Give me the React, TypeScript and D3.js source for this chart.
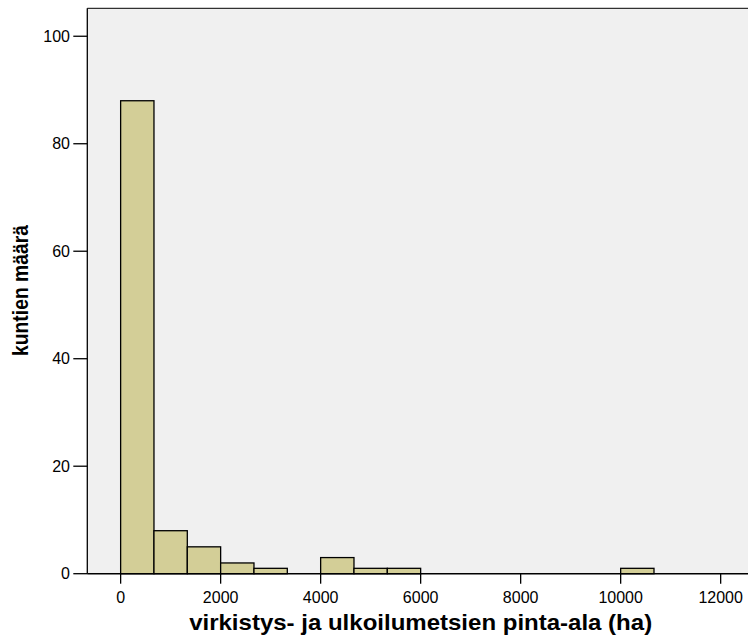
import * as d3 from 'd3';

// Histogram bins (width 2000/3 ha), counts
const binWidth = 2000 / 3;
const binCounts = [88, 8, 5, 2, 1, 0, 3, 1, 1, 0, 0, 0, 0, 0, 0, 1];
const xTicks = [0, 2000, 4000, 6000, 8000, 10000, 12000];
const yTicks = [0, 20, 40, 60, 80, 100];

const xTitle = 'virkistys- ja ulkoilumetsien pinta-ala (ha)';
const yTitle = 'kuntien määrä';

export default function App() {
  const width = 748;
  const height = 637;
  const plot = { left: 87.3, top: 8.3, right: 754, bottom: 573.7 };

  const x = d3.scaleLinear().domain([-binWidth, 12000 + binWidth]).range([plot.left, plot.right]);
  const y = d3.scaleLinear().domain([0, 105.2]).range([plot.bottom, plot.top]);

  const bars = binCounts
    .map((c, i) => ({ x0: i * binWidth, x1: (i + 1) * binWidth, count: c }))
    .filter(d => d.count > 0);

  return (
    <svg width={width} height={height} style={{ position: 'absolute', left: 0, top: 0, background: '#fff' }}
      fontFamily="'Liberation Sans', Arial, sans-serif">
      <rect x={plot.left} y={plot.top} width={plot.right - plot.left} height={plot.bottom - plot.top} fill="#f0f0f0" />
      <line x1={plot.left} x2={plot.right} y1={plot.top} y2={plot.top} stroke="#000" strokeWidth={1} />

      {bars.map((d, i) => (
        <rect key={i} x={x(d.x0)} y={y(d.count)} width={x(d.x1) - x(d.x0)} height={y(0) - y(d.count)}
          fill="#d3ce97" stroke="#000" strokeWidth={1.3} />
      ))}

      {/* y axis */}
      <line x1={plot.left} x2={plot.left} y1={plot.top} y2={plot.bottom} stroke="#000" strokeWidth={1.3} />
      {yTicks.map(t => (
        <g key={t} transform={`translate(0,${y(t)})`}>
          <line x1={plot.left - 14} x2={plot.left} stroke="#000" strokeWidth={1.3} />
          <text x={70} dy="0.35em" textAnchor="end" fontSize={16}>{t}</text>
        </g>
      ))}

      {/* x axis */}
      <line x1={plot.left} x2={width} y1={plot.bottom} y2={plot.bottom} stroke="#000" strokeWidth={1.6} />
      {xTicks.map(t => (
        <g key={t} transform={`translate(${x(t)},0)`}>
          <line y1={plot.bottom} y2={plot.bottom + 10} stroke="#000" strokeWidth={1.3} />
          <text y={603} textAnchor="middle" fontSize={16}>{t}</text>
        </g>
      ))}

      <text x={x(6000)} y={630} textAnchor="middle" fontSize={22} fontWeight="bold"
        textLength={463} lengthAdjust="spacingAndGlyphs">{xTitle}</text>
      <text transform={`translate(28,356) rotate(-90)`} fontSize={22} fontWeight="bold"
        textLength={131} lengthAdjust="spacingAndGlyphs">{yTitle}</text>
    </svg>
  );
}
